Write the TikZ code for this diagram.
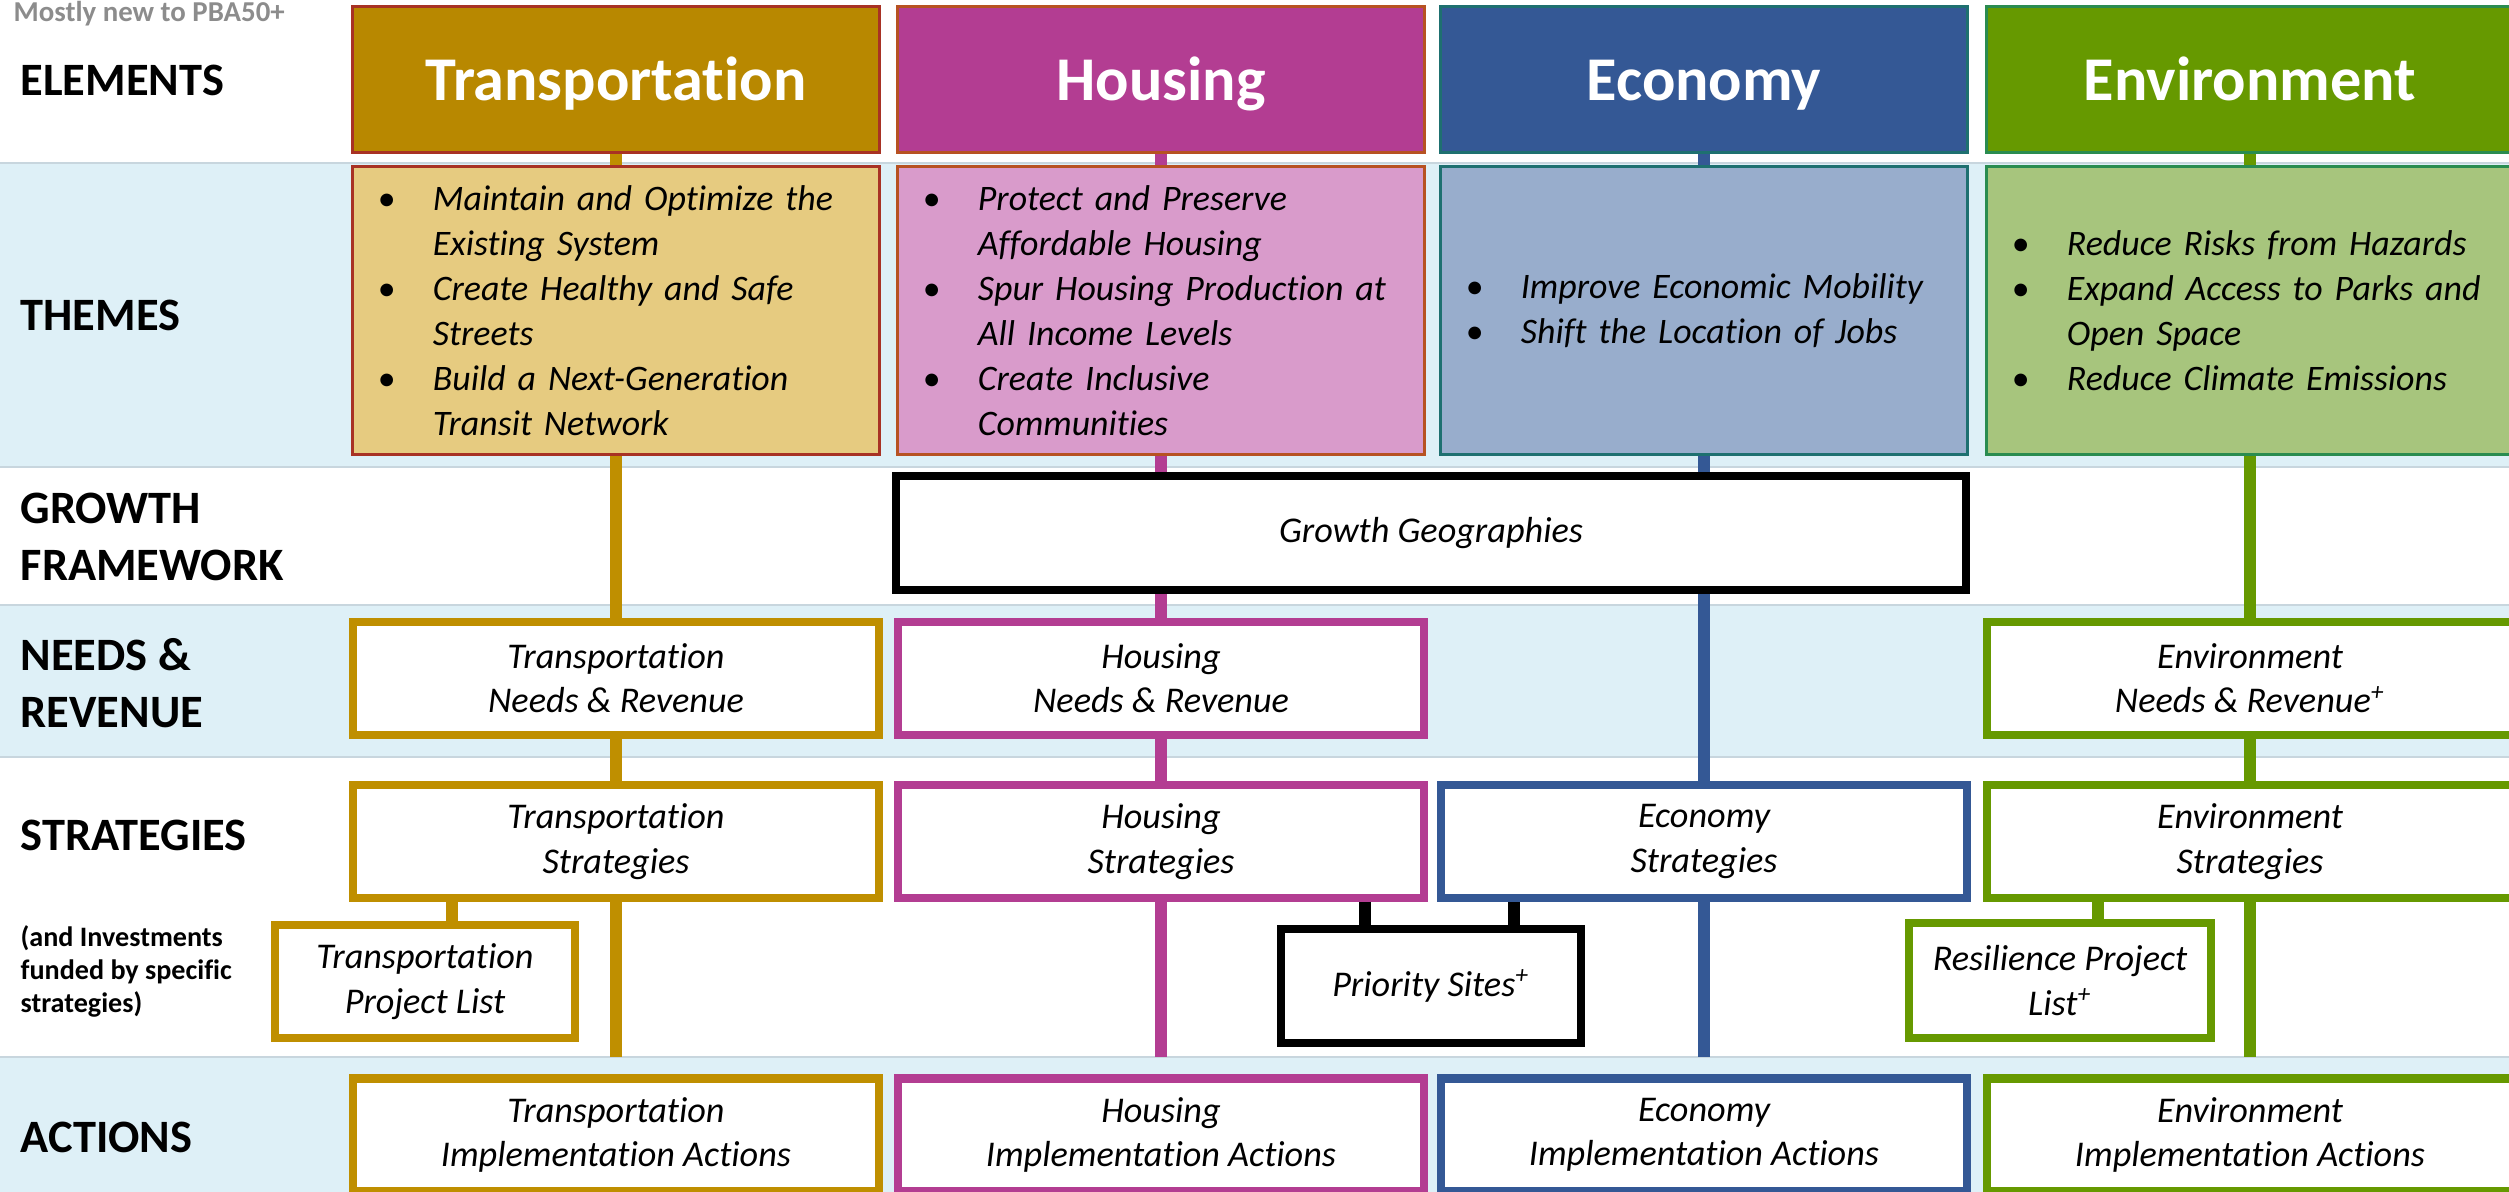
\documentclass[tikz,border=0pt]{standalone}
\usepackage{fontspec}
\setmainfont{Carlito}[Ligatures=NoCommon]
\usetikzlibrary{positioning,calc}

\definecolor{Thead}{RGB}{184,136,0}
\definecolor{Tedge}{RGB}{168,50,36}
\definecolor{Ttheme}{RGB}{230,203,128}
\definecolor{Tline}{RGB}{191,143,0}
\definecolor{Hhead}{RGB}{179,61,146}
\definecolor{Hedge}{RGB}{183,82,34}
\definecolor{Htheme}{RGB}{217,155,203}
\definecolor{Hline}{RGB}{179,61,146}
\definecolor{Ehead}{RGB}{52,88,149}
\definecolor{Eedge}{RGB}{30,112,112}
\definecolor{Etheme}{RGB}{152,173,204}
\definecolor{Eline}{RGB}{52,88,149}
\definecolor{Vhead}{RGB}{102,153,0}
\definecolor{Vedge}{RGB}{42,140,80}
\definecolor{Vtheme}{RGB}{167,197,125}
\definecolor{Vline}{RGB}{102,153,0}
\definecolor{Kline}{RGB}{0,0,0}
\definecolor{bandfill}{RGB}{222,240,247}
\definecolor{bandedge}{RGB}{200,214,222}
\definecolor{notegray}{RGB}{140,140,140}

\newcommand{\thbul}[1]{\mbox{\makebox[0.55cm][l]{\upshape\textbullet}#1}}
\newcommand{\thind}[1]{\mbox{\hspace*{0.55cm}#1}}

\tikzset{
 head/.style={draw=#1edge, fill=#1head, line width=0.85pt, minimum width=5.26cm, minimum height=1.46cm, text=white, font=\fontsize{17.7}{21}\selectfont\bfseries, text height=11.7pt, text depth=0pt},
 theme/.style={draw=#1edge, fill=#1theme, line width=0.85pt, minimum width=5.26cm, minimum height=2.88cm, text width=4.76cm, inner xsep=0.25cm, align=left, font=\fontsize{10.2}{12.8}\selectfont\itshape},
 box/.style={draw=#1line, fill=white, line width=2.3pt, minimum width=5.26cm, minimum height=1.13cm, align=center, font=\fontsize{10.3}{12.6}\selectfont\itshape},
 link/.style={draw=#1line, line width=3.4pt},
 lab/.style={anchor=west, align=left, inner sep=0pt, font=\fontsize{13.2}{16.2}\selectfont\bfseries}
}

\begin{document}
\begin{tikzpicture}[x=0.01cm, y=-0.01cm]
\useasboundingbox (0,0) rectangle (2509,1192);

\foreach \a/\b in {163/467, 605/757, 1057/1192}
 \fill[bandfill] (0,\a) rectangle (2509,\b);
\foreach \y in {163, 467, 605, 757, 1057}
 \draw[bandedge, line width=0.5pt] (0,\y) -- (2509,\y);
\coordinate (actTop) at (0,1057);

\node[anchor=base west, inner sep=0pt, text=notegray, font=\fontsize{8.2}{9.6}\selectfont\bfseries] (note) at (13,22) {Mostly new to PBA50+};

\node[lab] (lElem) at (20,80) {ELEMENTS};
\node[lab] (lTheme) at (20,315) {THEMES};
\node[lab] (lGrow) at (20,537) {GROWTH\\FRAMEWORK};
\node[lab] (lNeed) at (20,683) {NEEDS \&\\REVENUE};
\node[lab] (lStrat) at (20,835) {STRATEGIES};
\node[lab, font=\fontsize{8}{9.4}\selectfont\bfseries] (lInv) at (20,971) {(and Investments\\funded by specific\\strategies)};
\node[lab] (lAct) at (20,1137) {ACTIONS};

\foreach \cl/\x/\n in {T/616/Transportation, H/1161/Housing, E/1704/Economy, V/2250/Environment}
{
 \node[head=\cl] (h\cl) at (\x,79.5) {\n};
 \node[box=\cl] (s\cl) at (\x,841.5) {\n\\Strategies};
 \node[box=\cl] (a\cl) at (\x,1135) {\n\\Implementation Actions};
}

\node[theme=T] (tT) at (616,310.5) {\thbul{Maintain and Optimize the}\\ \thind{Existing System}\\ \thbul{Create Healthy and Safe}\\ \thind{Streets}\\ \thbul{Build a Next-Generation}\\ \thind{Transit Network}};
\node[theme=H] (tH) at (1161,310.5) {\thbul{Protect and Preserve}\\ \thind{Affordable Housing}\\ \thbul{Spur Housing Production at}\\ \thind{All Income Levels}\\ \thbul{Create Inclusive}\\ \thind{Communities}};
\node[theme=E] (tE) at (1704,310.5) {\thbul{Improve Economic Mobility}\\ \thbul{Shift the Location of Jobs}};
\node[theme=V] (tV) at (2250,310.5) {\thbul{Reduce Risks from Hazards}\\ \thbul{Expand Access to Parks and}\\ \thind{Open Space}\\ \thbul{Reduce Climate Emissions}};

\node[box=K, minimum width=10.7cm, minimum height=1.14cm] (grow) at (1431,533) {Growth Geographies};

\node[box=T] (nT) at (616,678.5) {Transportation\\Needs \& Revenue};
\node[box=H] (nH) at (1161,678.5) {Housing\\Needs \& Revenue};
\node[box=V] (nV) at (2250,678.5) {Environment\\Needs \& Revenue\textsuperscript{+}};

\node[box=T, minimum width=3cm] (pT) at (425,981.5) {Transportation\\Project List};
\node[box=K, minimum width=3cm, minimum height=1.14cm] (prio) at (1431,986) {Priority Sites\textsuperscript{+}};
\node[box=V, minimum width=3.01cm, minimum height=1.15cm] (pV) at (2060,980.5) {Resilience Project\\List\textsuperscript{+}};

\draw[link=T] (hT) -- (tT);
\draw[link=T] (tT) -- (nT);
\draw[link=T] (nT) -- (sT);
\draw[link=T] (sT) -- (sT |- actTop);

\draw[link=H] (hH) -- (tH);
\draw[link=H] (tH) -- (tH |- grow.north);
\draw[link=H] (grow.south -| nH) -- (nH);
\draw[link=H] (nH) -- (sH);
\draw[link=H] (sH) -- (sH |- actTop);

\draw[link=E] (hE) -- (tE);
\draw[link=E] (tE) -- (tE |- grow.north);
\draw[link=E] (grow.south -| sE) -- (sE);
\draw[link=E] (sE) -- (sE |- actTop);

\draw[link=V] (hV) -- (tV);
\draw[link=V] (tV) -- (nV);
\draw[link=V] (nV) -- (sV);
\draw[link=V] (sV) -- (sV |- actTop);

\coordinate (pTtop) at ([xshift=0.27cm]pT.north);
\coordinate (pVtop) at ([xshift=0.38cm]pV.north);
\coordinate (prioL) at ([xshift=-0.66cm]prio.north);
\coordinate (prioR) at ([xshift=0.83cm]prio.north);
\draw[link=T] (pTtop |- sT.south) -- (pTtop);
\draw[link=V] (pVtop |- sV.south) -- (pVtop);
\draw[link=K] (prioL |- sH.south) -- (prioL);
\draw[link=K] (prioR |- sE.south) -- (prioR);
\end{tikzpicture}
\end{document}
